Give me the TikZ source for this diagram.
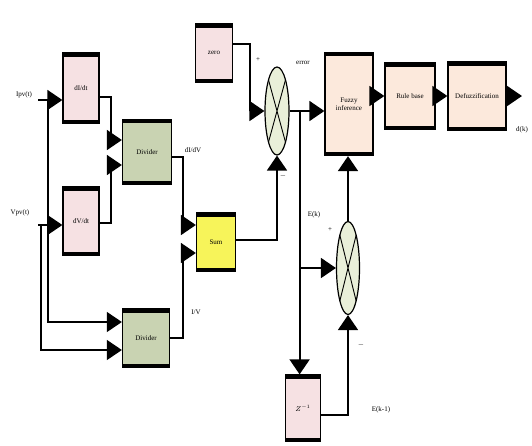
\documentclass[tikz,border=0pt]{standalone}
\usepackage{fontspec}
\setmainfont{Liberation Serif}
\usetikzlibrary{shapes.geometric,arrows.meta,positioning,calc}

\definecolor{pinkbox}{HTML}{F6E1E3}
\definecolor{greenbox}{HTML}{C9D3B2}
\definecolor{yellowbox}{HTML}{F7F45A}
\definecolor{peachbox}{HTML}{FCE9DC}
\definecolor{mixfill}{HTML}{E9EFD9}

\tikzset{
  blk/.style={rectangle, draw, line width=1.3pt, inner sep=1pt, font=\scriptsize,
    path picture={\draw[line width=7pt] (path picture bounding box.north west) -- (path picture bounding box.north east)
      (path picture bounding box.south west) -- (path picture bounding box.south east);}},
  mix/.style={ellipse, draw, line width=1.2pt, fill=mixfill, minimum width=24pt, minimum height=88pt, inner sep=0pt,
    path picture={\draw[line width=0.9pt] (path picture bounding box.north west) -- (path picture bounding box.south east)
      (path picture bounding box.north east) -- (path picture bounding box.south west);}},
  wire/.style={line width=1.8pt, -{Triangle[length=15pt,width=20pt]}},
  lbl/.style={font=\scriptsize, inner sep=1pt},
}

\begin{document}
\begin{tikzpicture}[x=1pt, y=-1pt]
    \useasboundingbox (0,0) rectangle (532,445);

    \node (didt) [blk, fill=pinkbox, minimum width=36pt, minimum height=70pt] at (81,88) {dI/dt};
    \node (dvdt) [blk, fill=pinkbox, minimum width=36pt, minimum height=68pt] at (81,221) {dV/dt};
    \node (div1) [blk, fill=greenbox, minimum width=49pt, minimum height=65pt] at (147,152) {Divider};
    \node (div2) [blk, fill=greenbox, minimum width=47pt, minimum height=58pt] at (146,338) {Divider};
    \node (sum) [blk, fill=yellowbox, minimum width=39pt, minimum height=58pt] at (216,242) {Sum};
    \node (zero) [blk, fill=pinkbox, minimum width=37pt, minimum height=58pt] at (214,53) {zero};
    \node (mix1) [mix] at (277,111) {};
    \node (fuzzy) [blk, fill=peachbox, minimum width=48pt, minimum height=103pt, align=center] at (349,104) {Fuzzy\\inference};
    \node (rule) [blk, fill=peachbox, minimum width=50pt, minimum height=66pt] at (410,96) {Rule base};
    \node (defuzz) [blk, fill=peachbox, minimum width=58pt, minimum height=68pt] at (477,96) {Defuzzification};
    \node (mix2) [mix, minimum width=23pt, minimum height=93pt] at (348,268) {};
    \node (zinv) [blk, fill=pinkbox, minimum width=35pt, minimum height=66pt] at (303,408) {$Z^{-1}$};

    % inputs and branch points
    \coordinate (ipv) at (38,100);
    \coordinate (vpv) at (38,225);
    \coordinate (bi) at (48,100);
    \coordinate (bv) at (41,225);
    \coordinate (eb) at ($(mix1.east)+(10,0)$);
    \coordinate (eb2) at (eb |- mix2.west);
    \coordinate (out) at (522,96);

    \draw [wire] (ipv) -- (ipv -| didt.west);
    \draw [wire] (vpv) -- (vpv -| dvdt.west);
    \draw [wire, line width=1.3pt] (bi) |- ([yshift=16pt]div2.west);
    \draw [wire, line width=1.3pt] (bv) |- ([yshift=-12pt]div2.west);

    \draw [wire] ([yshift=-9pt]didt.east) -- ++(11,0) |- ([yshift=12pt]div1.west);
    \draw [wire] ([yshift=-2pt]dvdt.east) -- ++(11,0) |- ([yshift=-13pt]div1.west);
    \draw [wire] ([yshift=-5pt]div1.east) -- ++(11,0) |- ([yshift=17pt]sum.west);
    \draw [wire] (div2.east) -- ++(13,0) |- ([yshift=-11pt]sum.west);

    \draw [wire] ([yshift=2pt]sum.east) -| (mix1.south);
    \draw [wire] ([yshift=9pt]zero.east) -- ++(17,0) |- (mix1.west);
    \draw [wire] (mix1.east) -- (mix1.east -| fuzzy.west);

    \draw [wire] (eb) -- (eb |- zinv.north);
    \draw [wire] (eb2) -- (mix2.west);
    \draw [wire] ([yshift=-7pt]zinv.east) -| (mix2.south);
    \draw [wire] (mix2.north) -- (mix2.north |- fuzzy.south);

    \draw [wire] (fuzzy.east |- rule.west) -- (rule.west);
    \draw [wire] (rule.east) -- (defuzz.west);
    \draw [wire] (defuzz.east) -- (out);

    % labels
    \node (lipv) [lbl] at (24,95) {Ipv(t)};
    \node (lvpv) [lbl] at (20,213) {Vpv(t)};
    \node (ldidv) [lbl] at (193,150) {dI/dV};
    \node (liv) [lbl] at (196,312) {I/V};
    \node (lp1) [lbl] at (258,60) {+};
    \node (lm1) [lbl] at (283,176) {$-$};
    \node (lerr) [lbl] at (303,63) {error};
    \node (lek) [lbl] at (314,215) {E(k)};
    \node (lp2) [lbl] at (330,230) {+};
    \node (lm2) [lbl] at (361,345) {$-$};
    \node (lek1) [lbl] at (381,410) {E(k-1)};
    \node (ldk) [lbl] at (522,130) {d(k)};
\end{tikzpicture}
\end{document}
